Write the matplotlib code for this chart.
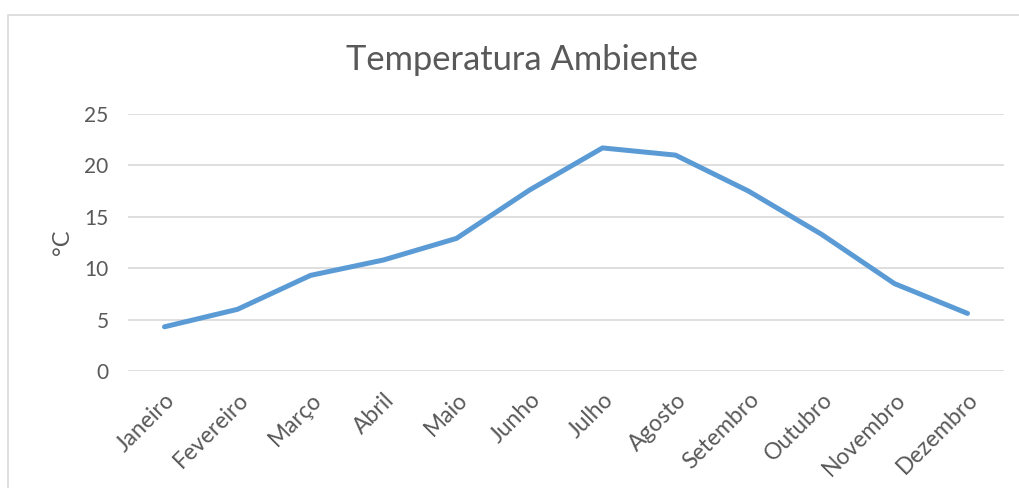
import matplotlib.pyplot as plt
from matplotlib.patches import Rectangle

meses = ['Janeiro', 'Fevereiro', 'Março', 'Abril', 'Maio', 'Junho',
         'Julho', 'Agosto', 'Setembro', 'Outubro', 'Novembro', 'Dezembro']
temperatura = [4.3, 6.0, 9.3, 10.8, 12.9, 17.6, 21.7, 21.0, 17.5, 13.3, 8.5, 5.6]
y_ticks = [0, 5, 10, 15, 20, 25]

plt.rcParams['font.family'] = ['Lato', 'DejaVu Sans']
texto = '#595959'

fig = plt.figure(figsize=(10.19, 4.88), dpi=100)
ax = fig.add_axes([128 / 1019, 1 - 371 / 488, 876 / 1019, 257 / 488])

# moldura do gráfico (cortada à direita e em baixo)
fig.patches.append(Rectangle((8 / 1019, -0.1), 1.2, 1 - 15 / 488 + 0.1,
                             transform=fig.transFigure, fill=False,
                             edgecolor='#D9D9D9', linewidth=1.2))

x = list(range(len(meses)))
ax.plot(x, temperatura, color='#5B9BD5', linewidth=3.6,
        solid_capstyle='round', solid_joinstyle='round', zorder=3)

ax.set_xlim(-0.5, len(meses) - 0.5)
ax.set_ylim(0, 25)
ax.set_yticks(y_ticks)
ax.set_xticks(x)
ax.set_xticklabels(meses, rotation=45, ha='right', rotation_mode='anchor')
ax.grid(axis='y', color='#D9D9D9', linewidth=1.2)
ax.set_axisbelow(True)
for s in ax.spines.values():
    s.set_visible(False)
ax.tick_params(length=0, labelsize=15, colors=texto)
ax.tick_params(axis='y', pad=14)
ax.tick_params(axis='x', pad=13, labelsize=16.5)

ax.set_ylabel('°C', fontsize=17, color=texto, labelpad=8)
fig.text(0.512, 1 - 60 / 488, 'Temperatura Ambiente', ha='center', va='center',
         fontsize=24.8, color=texto)

fig.savefig('out.png', dpi=100, facecolor='white')
